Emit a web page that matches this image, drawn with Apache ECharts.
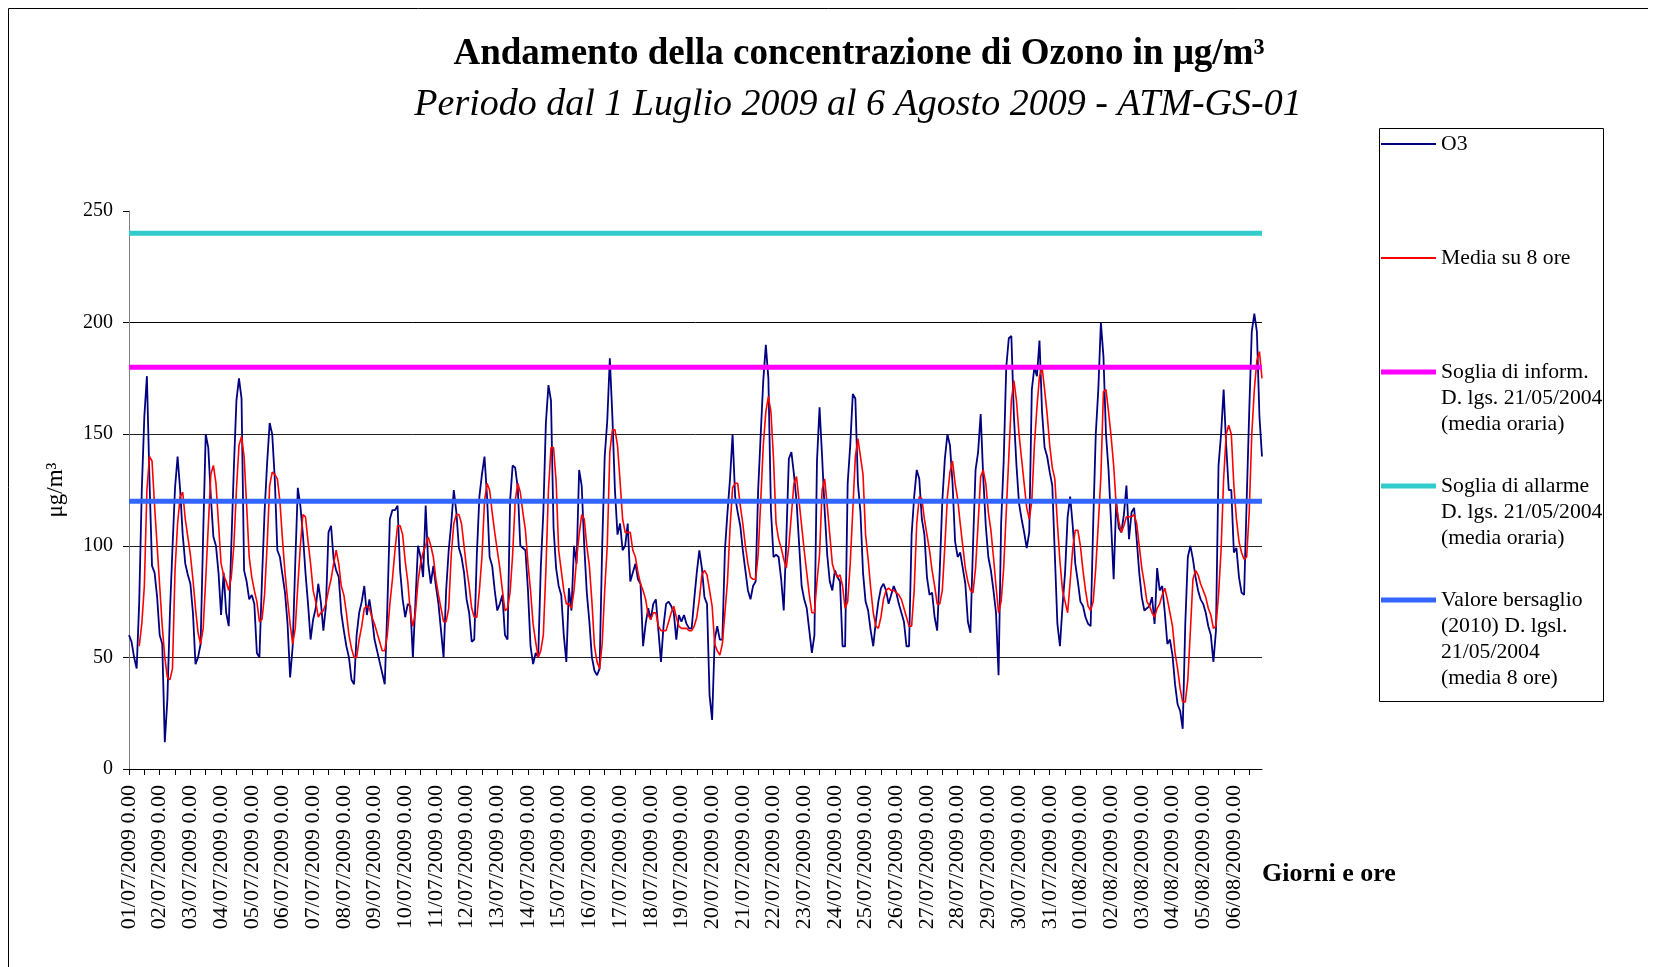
<!DOCTYPE html>
<html>
<head>
<meta charset="utf-8">
<script src="https://cdn.jsdelivr.net/npm/echarts@6/dist/echarts.min.js"></script>
<style>
  html, body { margin: 0; padding: 0; background: #fff; }
  #chart { width: 1656px; height: 967px; }
</style>
</head>
<body>
<div id="chart"></div>
<script>
// days shown on the x axis, samples every 2 hours
const days = [
  '01/07/2009', '02/07/2009', '03/07/2009', '04/07/2009', '05/07/2009', '06/07/2009',
  '07/07/2009', '08/07/2009', '09/07/2009', '10/07/2009', '11/07/2009', '12/07/2009',
  '13/07/2009', '14/07/2009', '15/07/2009', '16/07/2009', '17/07/2009', '18/07/2009',
  '19/07/2009', '20/07/2009', '21/07/2009', '22/07/2009', '23/07/2009', '24/07/2009',
  '25/07/2009', '26/07/2009', '27/07/2009', '28/07/2009', '29/07/2009', '30/07/2009',
  '31/07/2009', '01/08/2009', '02/08/2009', '03/08/2009', '04/08/2009', '05/08/2009',
  '06/08/2009'
];
const hours = [0, 2, 4, 6, 8, 10, 12, 14, 16, 18, 20, 22];

// O3, one row per day
const o3 = [
  60, 57, 50, 45, 75, 125, 158, 176, 130, 91, 88, 77,
  60, 56, 12, 31, 70, 99, 126, 140, 125, 105, 92, 87,
  83, 70, 47, 50, 56, 105, 150, 144, 122, 104, 100, 88,
  69, 88, 70, 64, 100, 135, 165, 175, 166, 89, 84, 76,
  78, 74, 52, 50, 85, 115, 137, 155, 150, 130, 98, 95,
  87, 79, 65, 41, 55, 92, 126, 118, 105, 88, 74, 58,
  67, 72, 83, 75, 62, 73, 106, 109, 94, 89, 86, 70,
  62, 55, 50, 40, 38, 60, 70, 75, 82, 69, 76, 68,
  58, 53, 48, 43, 38, 72, 112, 116, 116, 118, 89, 76,
  68, 74, 73, 50, 75, 100, 95, 86, 118, 92, 83, 91,
  82, 74, 62, 50, 80, 98, 110, 125, 115, 99, 95, 88,
  76, 70, 57, 58, 96, 122, 132, 140, 122, 95, 91, 80,
  71, 74, 78, 60, 58, 120, 136, 135, 126, 100, 99, 98,
  80, 55, 47, 52, 50, 90, 115, 155, 172, 165, 108, 90,
  82, 78, 60, 48, 81, 71, 100, 92, 134, 127, 100, 79,
  66, 50, 44, 42, 45, 99, 140, 156, 184, 158, 125, 105,
  110, 98, 100, 110, 84, 88, 92, 85, 83, 55, 65, 72,
  67, 74, 76, 62, 48, 64, 74, 75, 73, 70, 58, 69,
  66, 69, 65, 63, 63, 76, 88, 98, 90, 77, 74, 33,
  22, 58, 64, 58, 58, 98, 115, 130, 150, 122, 115, 109,
  98, 89, 80, 76, 82, 84, 125, 150, 174, 190, 175, 116,
  95, 96, 95, 85, 71, 103, 139, 142, 132, 120, 101, 82,
  76, 72, 62, 52, 60, 138, 162, 140, 116, 96, 84, 80,
  89, 86, 84, 55, 55, 128, 145, 168, 166, 128, 115, 88,
  75, 71, 62, 55, 66, 75, 81, 83, 80, 74, 78, 82,
  79, 74, 70, 66, 55, 55, 105, 122, 134, 130, 112, 105,
  86, 78, 79, 68, 62, 89, 120, 139, 150, 145, 128, 102,
  95, 97, 90, 83, 66, 61, 100, 134, 142, 159, 131, 109,
  95, 89, 80, 70, 42, 110, 138, 180, 193, 194, 158, 136,
  119, 112, 106, 99, 106, 170, 180, 176, 192, 160, 144, 140,
  133, 127, 96, 65, 55, 73, 88, 113, 122, 109, 92, 84,
  75, 73, 68, 65, 64, 110, 150, 170, 200, 185, 150, 134,
  110, 85, 120, 108, 106, 114, 127, 103, 115, 117, 103, 88,
  77, 71, 72, 73, 77, 65, 90, 80, 82, 70, 56, 58,
  51, 38, 29, 26, 18, 65, 95, 100, 94, 86, 80, 76,
  74, 70, 64, 60, 48, 62, 136, 150, 170, 145, 125, 125,
  97, 99, 86, 79, 78, 120, 160, 196, 204, 196, 158, 140
];

// 8-hour running mean
const media8 = [
  null, null, null, null, 55, 65, 82, 125, 140, 138, 118, 100,
  82, 64, 50, 41, 40, 45, 89, 110, 122, 124, 112, 104,
  96, 85, 72, 61, 56, 63, 85, 109, 132, 136, 128, 110,
  92, 87, 84, 80, 86, 100, 125, 145, 149, 140, 118, 95,
  86, 80, 75, 66, 67, 78, 100, 127, 133, 132, 130, 120,
  103, 88, 76, 65, 56, 63, 82, 100, 114, 113, 102, 92,
  80, 75, 68, 70, 71, 74, 80, 85, 92, 98, 92, 82,
  78, 70, 60, 54, 50, 50, 58, 64, 72, 73, 72, 68,
  65, 61, 57, 53, 53, 60, 74, 85, 98, 109, 109, 105,
  93, 84, 70, 64, 70, 84, 92, 97, 100, 104, 100, 95,
  85, 78, 72, 66, 66, 72, 96, 110, 114, 114, 110, 100,
  90, 82, 72, 68, 68, 80, 95, 120, 128, 125, 115, 106,
  98, 90, 80, 71, 72, 79, 96, 120, 128, 124, 115, 107,
  92, 80, 65, 57, 50, 53, 60, 89, 125, 144, 144, 129,
  98, 89, 80, 74, 74, 72, 80, 94, 105, 114, 112, 100,
  91, 75, 55, 48, 45, 56, 80, 100, 142, 152, 152, 145,
  129, 112, 106, 106, 106, 98, 95, 88, 83, 80, 76, 69,
  67, 70, 70, 64, 62, 62, 62, 66, 70, 73, 68, 64,
  63, 63, 63, 62, 62, 64, 68, 76, 87, 89, 87, 80,
  73, 56, 53, 51, 56, 70, 84, 108, 126, 128, 128, 118,
  110, 100, 92, 86, 85, 85, 96, 120, 145, 160, 167, 160,
  139, 110, 103, 99, 94, 90, 100, 114, 128, 131, 120, 109,
  98, 88, 78, 70, 70, 84, 96, 125, 130, 118, 105, 92,
  88, 86, 87, 82, 72, 75, 92, 116, 140, 148, 140, 132,
  105, 94, 81, 70, 64, 63, 68, 76, 80, 81, 80, 80,
  79, 78, 76, 72, 68, 64, 64, 80, 110, 122, 121, 112,
  105, 98, 89, 82, 74, 74, 80, 100, 122, 133, 138, 128,
  121, 110, 100, 90, 84, 80, 79, 90, 110, 131, 134, 128,
  115, 107, 95, 82, 70, 75, 90, 115, 140, 165, 174, 165,
  150, 139, 128, 117, 112, 120, 145, 162, 176, 180, 170, 159,
  145, 135, 130, 110, 93, 80, 75, 70, 84, 99, 107, 107,
  100, 89, 80, 73, 71, 75, 90, 110, 131, 169, 170, 160,
  149, 136, 118, 111, 106, 109, 113, 113, 113, 114, 110, 100,
  90, 83, 75, 73, 70, 68, 72, 74, 78, 81, 76, 70,
  64, 52, 45, 36, 30, 30, 40, 62, 85, 89, 87, 83,
  80, 77, 72, 69, 63, 64, 78, 98, 130, 150, 154, 150,
  127, 112, 102, 97, 94, 95, 115, 150, 170, 183, 187, 175
];

// limits (µg/m3)
const sogliaInform = 180;
const sogliaAllarme = 240;
const valoreBersaglio = 120;

const categories = days.flatMap((d) => hours.map((h) => d + ' ' + h + '.00'));
const flat = (v) => categories.map(() => v);

const serif = 'Liberation Serif, Times New Roman, serif';
const chart = echarts.init(document.getElementById('chart'));

const names = {
  o3: 'O3',
  media: 'Media su 8 ore',
  info: 'Soglia di inform.\nD. lgs. 21/05/2004\n(media oraria)',
  allarme: 'Soglia di allarme\nD. lgs. 21/05/2004\n(media oraria)',
  bersaglio: 'Valore bersaglio\n(2010) D. lgsl.\n21/05/2004\n(media 8 ore)'
};

const lineH = 26;
// one legend block per entry; blank lines on top push the first text line level with the icon
const legendAt = (name, centerY, lines, thick) => ({
  orient: 'vertical',
  left: 1381,
  top: centerY - ((2 * lines - 1) * lineH) / 2,
  padding: 0,
  icon: 'rect',
  itemWidth: 55,
  itemHeight: thick,
  selectedMode: false,
  data: [name],
  formatter: (n) => '\n'.repeat(lines - 1) + n,
  textStyle: { fontFamily: serif, fontSize: 21.7, lineHeight: lineH, color: '#000' }
});

const option = {
  animation: false,
  backgroundColor: '#fff',
  title: [
    {
      text: 'Andamento della concentrazione di Ozono in μg/m³',
      left: 859,
      top: 36,
      padding: 0,
      textAlign: 'center',
      textStyle: { fontFamily: serif, fontWeight: 'bold', fontSize: 37, color: '#000' }
    },
    {
      text: 'Periodo dal 1 Luglio 2009 al 6 Agosto 2009 - ATM-GS-01',
      left: 858,
      top: 86,
      padding: 0,
      textAlign: 'center',
      textStyle: { fontFamily: serif, fontStyle: 'italic', fontWeight: 'normal', fontSize: 38, color: '#000' }
    }
  ],
  legend: [
    legendAt(names.o3, 144, 1, 2),
    legendAt(names.media, 258, 1, 2),
    legendAt(names.info, 372, 3, 5),
    legendAt(names.allarme, 486, 3, 5),
    legendAt(names.bersaglio, 600, 4, 5)
  ],
  grid: { left: 129, right: 394, top: 211, bottom: 198, containLabel: false },
  xAxis: {
    type: 'category',
    data: categories,
    boundaryGap: false,
    axisLine: { lineStyle: { color: '#000', width: 1 } },
    axisTick: { interval: 5, length: 6, lineStyle: { color: '#000' } },
    axisLabel: {
      interval: 11,
      rotate: 90,
      margin: 16,
      fontFamily: serif,
      fontSize: 22,
      color: '#000'
    },
    splitLine: { show: false }
  },
  yAxis: {
    type: 'value',
    min: 0,
    max: 250,
    interval: 50,
    name: 'μg/m³',
    nameLocation: 'middle',
    nameGap: 62,
    nameRotate: 90,
    nameTextStyle: { fontFamily: serif, fontSize: 23, color: '#000' },
    axisLine: { show: true, lineStyle: { color: '#808080', width: 1 } },
    axisTick: { show: true, length: 6, lineStyle: { color: '#000' } },
    axisLabel: { margin: 16, fontFamily: serif, fontSize: 20, color: '#000' },
    splitLine: {
      lineStyle: { color: ['#000', '#222', '#222', '#222', '#000', 'transparent'], width: 1 }
    }
  },
  graphic: [
    {
      type: 'polyline',
      shape: { points: [[8.5, 967], [8.5, 8.5], [1648, 8.5]] },
      style: { fill: 'none', stroke: '#000', lineWidth: 1 },
      silent: true
    },
    {
      type: 'rect',
      shape: { x: 1379.5, y: 128.5, width: 224, height: 573 },
      style: { fill: 'none', stroke: '#000', lineWidth: 1 },
      silent: true
    },
    {
      type: 'text',
      left: 1262,
      top: 861,
      style: { text: 'Giorni e ore', font: 'bold 26px ' + serif, fill: '#000' }
    }
  ],
  series: [
    {
      name: names.o3,
      type: 'line',
      data: o3,
      symbol: 'none',
      lineStyle: { color: '#000080', width: 1.8 },
      itemStyle: { color: '#000080' }
    },
    {
      name: names.media,
      type: 'line',
      data: media8,
      symbol: 'none',
      lineStyle: { color: '#ff0000', width: 1.6 },
      itemStyle: { color: '#ff0000' }
    },
    {
      name: names.info,
      type: 'line',
      data: flat(sogliaInform),
      symbol: 'none',
      lineStyle: { color: '#ff00ff', width: 5 },
      itemStyle: { color: '#ff00ff' }
    },
    {
      name: names.allarme,
      type: 'line',
      data: flat(sogliaAllarme),
      symbol: 'none',
      lineStyle: { color: '#33cccc', width: 5 },
      itemStyle: { color: '#33cccc' }
    },
    {
      name: names.bersaglio,
      type: 'line',
      data: flat(valoreBersaglio),
      symbol: 'none',
      lineStyle: { color: '#3366ff', width: 5 },
      itemStyle: { color: '#3366ff' }
    }
  ]
};

chart.setOption(option);
</script>
</body>
</html>
